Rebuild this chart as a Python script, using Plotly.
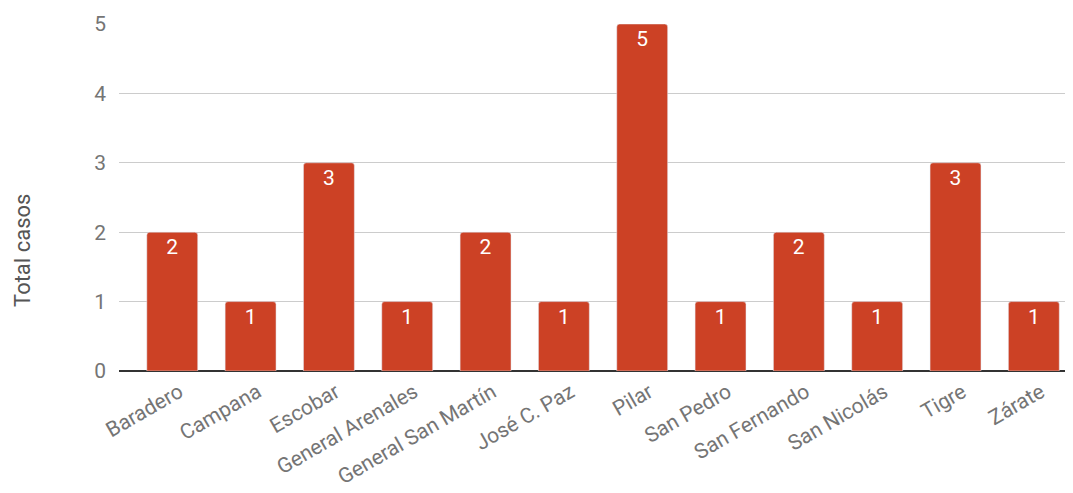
import plotly.graph_objects as go

categories = ["Baradero", "Campana", "Escobar", "General Arenales", "General San Martín",
              "José C. Paz", "Pilar", "San Pedro", "San Fernando", "San Nicolás", "Tigre", "Zárate"]
values = [2, 1, 3, 1, 2, 1, 5, 1, 2, 1, 3, 1]
y_title = "Total casos"

fig = go.Figure(go.Bar(
    x=categories, y=values,
    marker=dict(color="#cc4125", cornerradius=3),
    text=[str(v) for v in values],
    textposition="inside", insidetextanchor="end",
    textfont=dict(family="Roboto", size=21, color="white"),
    textangle=0,
    hoverinfo="x+y",
))

fig.update_layout(
    width=1065, height=485,
    margin=dict(l=111, r=0, t=16, b=122),
    paper_bgcolor="white", plot_bgcolor="white",
    bargap=0.35,
    showlegend=False,
    font=dict(family="Roboto", color="#757575"),
    xaxis=dict(
        range=[-0.68, 11.5],
        tickangle=-30,
        tickfont=dict(size=21, color="#757575"),
        showgrid=False, showline=False, ticks="",
        ticklabelshift=7, ticklabelstandoff=4,
        automargin=False,
    ),
    yaxis=dict(
        range=[0, 5],
        dtick=1,
        tickfont=dict(size=21, color="#757575"),
        gridcolor="#cccccc", gridwidth=1,
        zeroline=True, zerolinecolor="#333333", zerolinewidth=2,
        ticks="", ticklabelstandoff=12,
        automargin=False,
    ),
    annotations=[dict(
        text=y_title, textangle=-90, showarrow=False,
        xref="paper", yref="paper", x=0, y=0.346,
        xanchor="center", yanchor="middle", xshift=-96,
        font=dict(family="Roboto", size=22, color="#555555"),
    )],
)

fig.write_html("out.html")
